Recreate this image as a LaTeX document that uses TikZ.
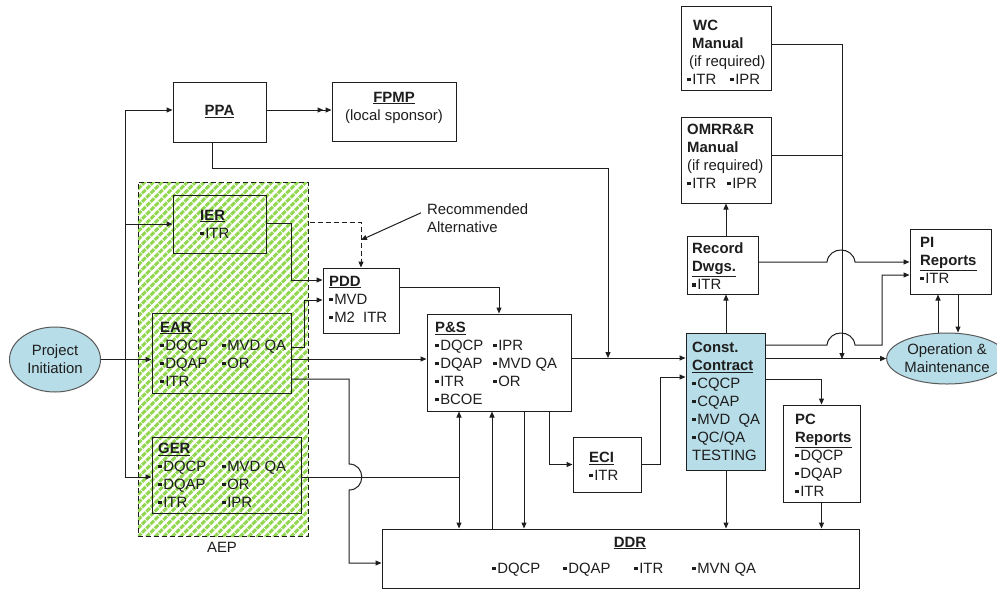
\documentclass[tikz,border=0pt]{standalone}
\usepackage{fontspec}
\setmainfont{Liberation Sans}
\usetikzlibrary{arrows.meta,patterns.meta,shapes.geometric}
\definecolor{hatchc}{RGB}{145,215,80}
\definecolor{lblue}{RGB}{183,221,232}
\definecolor{ln}{RGB}{30,30,30}
\newcommand\bul{\rule[0.21em]{0.24em}{0.24em}\hspace{0.1em}}
\newcommand\ttl[1]{\textbf{\underline{#1}}}
\begin{document}
\begin{tikzpicture}[x=1pt,y=-1pt,
  font=\fontsize{14.9}{18}\selectfont,
  box/.style={draw=ln, line width=1pt, inner sep=0pt},
  txt/.style={inner sep=0pt, anchor=north west, align=left, text=ln},
  cline/.style={draw=ln, line width=1pt},
  arr/.style={cline, -{Triangle[length=6pt,width=5pt]}},
  arrtwo/.style={cline, {Triangle[length=6pt,width=5pt]}-{Triangle[length=6pt,width=5pt]}},
  arrdbl/.style={cline, -{Triangle[length=6pt,width=5pt,sep=2pt]Triangle[length=6pt,width=5pt]}},
  oval/.style={ellipse, draw=black!65, line width=1pt, fill=lblue, inner sep=0pt, align=center, text=ln}
]
\useasboundingbox (0,0) rectangle (997,590);
\fill[white] (0,0) rectangle (997,590);

% AEP hatched area
\node[draw=ln, line width=1pt, dash pattern=on 5pt off 3pt, inner sep=0pt,
  pattern={Lines[angle=45,distance=6pt,line width=3pt]}, pattern color=hatchc,
  minimum width=170pt, minimum height=354pt] (aep) at (223,359) {};
\node[inner sep=0pt, text=ln] (aeplbl) at (222,547) {AEP};

% boxes
\node[box, minimum width=93pt, minimum height=60pt] (ppa) at (219.5,112) {};
\node[box, minimum width=124pt, minimum height=59pt] (fpmp) at (394,111.5) {};
\node[box, minimum width=93pt, minimum height=58pt] (ier) at (219.5,224) {};
\node[box, minimum width=139pt, minimum height=80pt] (ear) at (221.5,353) {};
\node[box, minimum width=149pt, minimum height=76pt] (ger) at (226.5,475) {};
\node[box, fill=white, minimum width=76pt, minimum height=65pt] (pdd) at (361,300.5) {};
\node[box, fill=white, minimum width=144pt, minimum height=97pt] (ps) at (499,362.5) {};
\node[box, fill=white, minimum width=68pt, minimum height=55pt] (eci) at (607,464.5) {};
\node[box, fill=lblue, minimum width=79pt, minimum height=137pt] (const) at (725.5,401.5) {};
\node[box, fill=white, minimum width=71pt, minimum height=58pt] (rec) at (722.5,265) {};
\node[box, fill=white, minimum width=90pt, minimum height=86pt] (omrr) at (726,160) {};
\node[box, fill=white, minimum width=90pt, minimum height=84pt] (wc) at (726,48) {};
\node[box, fill=white, minimum width=81pt, minimum height=65pt] (pi) at (950.5,261.5) {};
\node[box, fill=white, minimum width=77pt, minimum height=97pt] (pc) at (821.5,453.5) {};
\node[box, fill=white, minimum width=477pt, minimum height=59pt] (ddr) at (620.5,558.5) {};
\node[oval, minimum width=91pt, minimum height=65pt] (init) at (55,359.5) {Project\\Initiation};
\node[oval, minimum width=110pt, minimum height=51pt] (om) at (947,358.5) {Operation \&\\Maintenance};

% connectors
\coordinate (split) at (125,359);
\draw[arr] (init.east) -- (ear.west |- init.east);
\draw[arr] (split) |- (ppa.west |- 0,110);
\draw[arr] (split) |- (ger.west |- 0,477);
\draw[arr] (split |- ier.west) -- (ier.west);
\draw[arr] (ier.east |- 0,223) -| (291,280) -- (pdd.west |- 0,280);
\draw[arr, dash pattern=on 5pt off 3pt] (aep.east |- 0,222) -| (pdd.north);
\draw[arr] (ear.east |- 0,347) -| (304,300) -- (pdd.west |- 0,300);
\draw[arr] (pdd.east |- 0,287) -| (ps.north);
\draw[arr] (ear.east |- 0,359) -- (ps.west |- 0,359);
\draw[arr] (ear.east |- 0,379) -- (349,379) -- (349,464) .. controls (366,464) and (366,490) .. (349,490) -- (349,563) -- (ddr.west |- 0,563);
\coordinate (gj) at (459,477);
\draw[cline] (ger.east |- gj) -- (gj);
\draw[arrtwo] (ps.south -| 459,0) -- (ddr.north -| 459,0);
\draw[arr] (ddr.north -| 492,0) -- (ps.south -| 492,0);
\draw[arr] (ps.south -| 524,0) -- (ddr.north -| 524,0);
\draw[arr] (ps.south -| 549,0) |- (eci.west);
\draw[arr] (eci.east) -| (660,377) -- (const.west |- 0,377);
\draw[arr] (ps.east |- 0,358) -- (const.west |- 0,358);
\coordinate (pj) at (608,358);
\draw[arr] (ppa.south -| 212,0) |- (pj |- 0,168) -- (pj);
\draw[arrdbl] (ppa.east |- 0,110) -- (fpmp.west |- 0,110);
\draw[arr] (const.north -| 726,0) -- (rec.south -| 726,0);
\draw[arr] (rec.north -| 726,0) -- (omrr.south -| 726,0);
\coordinate (wj) at (842,359);
\draw[arr] (wc.east |- 0,44) -| (wj);
\draw[cline] (omrr.east |- 0,155) -- (wj |- 0,155);
\draw[arr] (rec.east |- 0,262) -- (827,262) .. controls (829,246) and (853,246) .. (855,262) -- (pi.west |- 0,262);
\draw[arr] (const.east |- 0,345) -- (827,345) .. controls (829,329) and (853,329) .. (855,345) -| (882,275) -- (pi.west |- 0,275);
\draw[arr] (const.east |- om.west) -- (om.west);
\draw[arr] (om.north -| 938,0) -- (pi.south -| 938,0);
\draw[arr] (pi.south -| 958,0) -- (om.north -| 958,0);
\draw[arr] (const.east |- 0,379) -| (pc.north);
\draw[arr] (const.south -| 726,0) -- (ddr.north -| 726,0);
\draw[arr] (pc.south) -- (ddr.north -| pc.south);

% recommended alternative
\node[txt] (rectxt) at (427,203.8) {Recommended\\Alternative};
\coordinate (recpt) at (361,240);
\draw[arr] (rectxt.north west) ++(-6,9) -- (recpt);

% texts
\node[inner sep=0pt, anchor=base, text=ln] (ppat) at (219.5,115.5) {\ttl{PPA}};
\node[inner sep=0pt, anchor=north, align=center, text=ln] (fpmpt) at (394,91.8) {\ttl{FPMP}\\(local sponsor)};
\node[txt] (iert) at (200,209.8) {\ttl{IER}\\\bul ITR};
\node[txt] (eart) at (160,321.8) {\ttl{EAR}\\\makebox[62pt][l]{\bul DQCP}\bul MVD QA\\\makebox[62pt][l]{\bul DQAP}\bul OR\\\bul ITR};
\node[txt] (gert) at (158,442.8) {\ttl{GER}\\\makebox[64pt][l]{\bul DQCP}\bul MVD QA\\\makebox[64pt][l]{\bul DQAP}\bul OR\\\makebox[64pt][l]{\bul ITR}\bul IPR};
\node[txt] (pddt) at (329,275.8) {\ttl{PDD}\\\bul MVD\\\bul M2\ \ ITR};
\node[txt] (pst) at (435,321.8) {\ttl{P\&S}\\\makebox[58pt][l]{\bul DQCP}\bul IPR\\\makebox[58pt][l]{\bul DQAP}\bul MVD QA\\\makebox[58pt][l]{\bul ITR}\bul OR\\\bul BCOE};
\node[txt] (ecit) at (589,451.8) {\ttl{ECI}\\\bul ITR};
\node[txt] (constt) at (692,341.8) {\textbf{Const.}\\\ttl{Contract}\\\bul CQCP\\\bul CQAP\\\bul MVD\ \ QA\\\bul QC/QA\\TESTING};
\node[txt] (rect) at (692,242.8) {\textbf{Record}\\\ttl{Dwgs.}\\\bul ITR};
\node[txt] (omrrt) at (687,123.8) {\textbf{OMRR\&R}\\\textbf{Manual}\\(if required)\\\makebox[40pt][l]{\bul ITR}\bul IPR};
\node[txt] (wct) at (687,19.8) {\hspace{6pt}\textbf{WC}\\\hspace{5pt}\textbf{Manual}\\\hspace{2pt}(if required)\\\makebox[43pt][l]{\bul ITR}\bul IPR};
\node[txt] (pit) at (920,236.8) {\textbf{PI}\\\ttl{Reports}\\\bul ITR};
\node[txt] (pct) at (795,413.8) {\textbf{PC}\\\ttl{Reports}\\\bul DQCP\\\bul DQAP\\\bul ITR};
\node[inner sep=0pt, anchor=base, text=ln] (ddrt) at (630,547.2) {\ttl{DDR}};
\node[inner sep=0pt, anchor=base west, text=ln] (ddri) at (492,573.2) {\makebox[71pt][l]{\bul DQCP}\makebox[71pt][l]{\bul DQAP}\makebox[58pt][l]{\bul ITR}\bul MVN QA};
\end{tikzpicture}
\end{document}
